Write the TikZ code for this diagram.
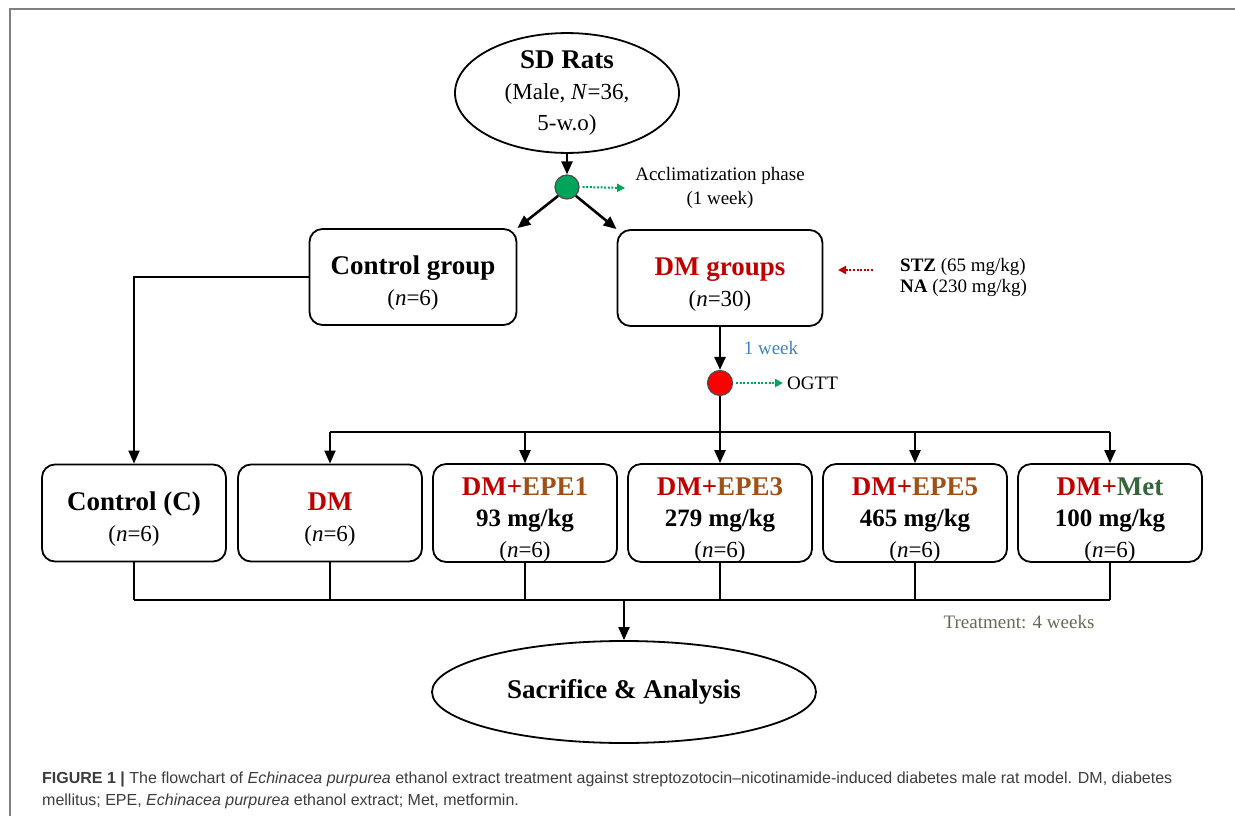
\documentclass[tikz,border=0pt]{standalone}
\usepackage{fontspec}
\setmainfont{Liberation Serif}
\newfontfamily\capfont{Liberation Sans}
\usetikzlibrary{arrows.meta, calc, shapes.geometric}
\definecolor{dmred}{RGB}{192,0,0}
\definecolor{epebrown}{RGB}{160,80,20}
\definecolor{metgreen}{RGB}{55,100,60}
\definecolor{weekblue}{RGB}{60,130,200}
\definecolor{dotgreen}{RGB}{0,165,90}
\definecolor{treatgrey}{RGB}{105,105,85}
\definecolor{capgrey}{RGB}{60,60,60}
\newcommand{\ttl}[1]{{\fontsize{27}{31}\selectfont\bfseries #1}}
\newcommand{\hd}[1]{{\fontsize{27}{31}\selectfont\bfseries\rule{0pt}{31pt}#1}}
\newcommand{\dose}[1]{{\fontsize{25}{31}\selectfont\bfseries #1}}

\begin{document}
\begin{tikzpicture}[x=1pt, y=-1pt, >={Triangle[length=13pt,width=11pt]},
  line/.style={line width=2pt},
  grp/.style={draw, line width=1.8pt, rounded corners=13pt, align=center,
    inner sep=0pt, font=\fontsize{23}{31}\selectfont},
  oval/.style={draw, line width=1.8pt, ellipse, inner sep=0pt, align=center,
    font=\fontsize{23}{31}\selectfont},
  lbl/.style={font=\fontsize{19}{23}\selectfont, inner sep=0pt},
  hint/.style={line width=2pt, dash pattern=on 2pt off 1.6pt,
    -{Triangle[length=8pt,width=8pt]}}]
\useasboundingbox (0,0) rectangle (1235,816);
\draw[line width=2.5pt, gray] (10,816) -- (10,9) -- (1235,9);

% top part
\node[oval, minimum width=224pt, minimum height=114pt] (rats) at (567,93)
  {\ttl{SD Rats}\\(Male, \textit{N}=36,\\5-w.o)};
\node[circle, draw=black!70, line width=1.2pt, fill=dotgreen, minimum size=24pt, inner sep=0pt] (gdot) at (567,187) {};
\node[lbl, align=center, font=\fontsize{19}{24}\selectfont] (acc) at (720,188) {Acclimatization phase\\(1 week)};
\node[grp, minimum width=207pt, minimum height=96pt] (ctrl) at (413,277)
  {\hd{Control group}\\(\textit{n}=6)};
\node[grp, minimum width=205pt, minimum height=96pt] (dmgrp) at (720,278)
  {\hd{\color{dmred}DM groups}\\(\textit{n}=30)};
\node[lbl, align=left, anchor=west, font=\fontsize{19}{21}\selectfont] (stz) at (900,277)
  {\textbf{STZ} (65 mg/kg)\\\textbf{NA} (230 mg/kg)};
\node[circle, draw=black!70, line width=1.2pt, fill=red, minimum size=25pt, inner sep=0pt] (rdot) at (720,383) {};
\node[lbl, text=weekblue] (week) at (771,348) {1 week};
\node[lbl, anchor=west] (ogtt) at (787,383) {OGTT};
\coordinate (stzend) at (838,270);
\coordinate (bus) at (720,432);
\coordinate (bot) at (624,600);

% groups
\node[grp, minimum width=184pt, minimum height=97pt] (cc) at (134,513)
  {\hd{Control (C)}\\(\textit{n}=6)};
\node[grp, minimum width=184pt, minimum height=97pt] (dm) at (330,513)
  {\hd{\color{dmred}DM}\\(\textit{n}=6)};
\node[grp, minimum width=184pt, minimum height=97pt] (epe1) at (525,513)
  {\hd{\color{dmred}DM+\color{epebrown}EPE1}\\\dose{93 mg/kg}\\(\textit{n}=6)};
\node[grp, minimum width=184pt, minimum height=97pt] (epe3) at (720,513)
  {\hd{\color{dmred}DM+\color{epebrown}EPE3}\\\dose{279 mg/kg}\\(\textit{n}=6)};
\node[grp, minimum width=184pt, minimum height=97pt] (epe5) at (915,513)
  {\hd{\color{dmred}DM+\color{epebrown}EPE5}\\\dose{465 mg/kg}\\(\textit{n}=6)};
\node[grp, minimum width=184pt, minimum height=97pt] (met) at (1110,513)
  {\hd{\color{dmred}DM+\color{metgreen}Met}\\\dose{100 mg/kg}\\(\textit{n}=6)};
\node[oval, minimum width=384pt, minimum height=102pt] (sac) at (624,692)
  {\ttl{Sacrifice \& Analysis}};
\node[lbl, text=treatgrey] (treat) at (1019,622) {Treatment: 4 weeks};

% connectors
\draw[line width=2.6pt, ->] (rats.south) -- (gdot.north);
\draw[line width=2.6pt, ->] (gdot.225) -- (ctrl.north east);
\draw[line width=2.6pt, ->] (gdot.-45) -- (dmgrp.north west);
\draw[hint, dotgreen] ([xshift=3pt]gdot.east) -- ([xshift=-10pt]acc.west);
\draw[hint, dmred] ([xshift=-27pt]stz.west |- stzend) -- (stzend);
\draw[line width=2.6pt, ->] (dmgrp.south) -- (rdot.north);
\draw[hint, dotgreen] ([xshift=3pt]rdot.east) -- ([xshift=-4pt]ogtt.west);
\draw[line] (rdot.south) -- (bus);
\draw[line] (dm.north |- bus) -- (met.north |- bus);
\foreach \g in {dm,epe1,epe3,epe5,met} \draw[line, ->] (\g.north |- bus) -- (\g.north);
\draw[line, ->] (ctrl.west) -- (ctrl.west -| cc.north) -- (cc.north);
\foreach \g in {cc,dm,epe1,epe3,epe5,met} \draw[line] (\g.south) -- (\g.south |- bot);
\draw[line] (cc.south |- bot) -- (met.south |- bot);
\draw[line, ->] (bot) -- (sac.north);

% caption
\node[anchor=west, inner sep=0pt, text=capgrey, font=\capfont\fontsize{16}{18}\selectfont] (cap1) at (42,779)
  {\textbf{FIGURE 1 |} The flowchart of \textit{Echinacea purpurea} ethanol extract treatment against streptozotocin–nicotinamide-induced diabetes male rat model. DM, diabetes};
\node[anchor=west, inner sep=0pt, text=capgrey, font=\capfont\fontsize{16}{18}\selectfont] (cap2) at (42,801)
  {mellitus; EPE, \textit{Echinacea purpurea} ethanol extract; Met, metformin.};
\end{tikzpicture}
\end{document}
